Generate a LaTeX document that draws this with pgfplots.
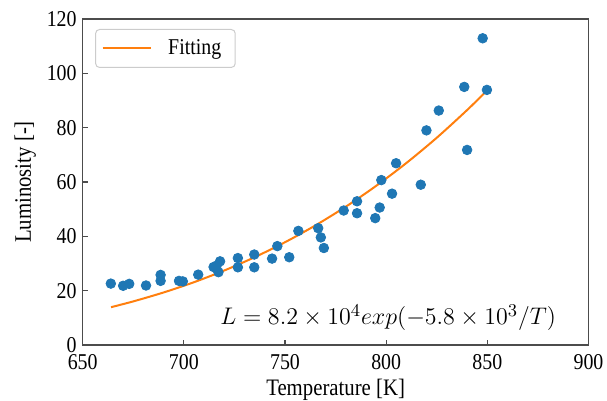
\documentclass[border=0pt]{standalone}
\usepackage{fontspec}
\setmainfont{Liberation Serif}[FakeStretch=0.88]
\usepackage{pgfplots}
\pgfplotsset{compat=1.18}
\definecolor{mplblue}{HTML}{1F77B4}
\definecolor{mplorange}{HTML}{FF7F0E}

\begin{document}
\begin{tikzpicture}
\useasboundingbox (-41.35pt,-28pt) rectangle (262.15pt,172.5pt);
\begin{axis}[scale only axis,width=252.9pt,height=163pt,
  xmin=650,xmax=900,ymin=0,ymax=120,
  xtick={650,700,...,900},ytick={0,20,...,120},
  tick pos=left,tick align=inside,major tick length=2.5pt,
  axis line style={black!70,line width=0.8pt},
  tick style={black!70,line width=0.6pt},
  /pgf/number format/assume math mode=true,
  /pgf/number format/1000 sep={},
  tick label style={font=\fontsize{11.3}{12}\selectfont},
  yticklabel style={xshift=0.5pt},
  xticklabel style={yshift=-1.2pt},
  xlabel={Temperature [K]},ylabel={Luminosity [-]},
  label style={font=\fontsize{11.8}{13}\selectfont},
  xlabel style={at={(axis description cs:0.5,-0.1564)},anchor=base},
  ylabel style={at={(axis description cs:-0.1024,0.5)},anchor=base},
  legend style={at={(axis description cs:0,1)},anchor=north west,xshift=6.2pt,yshift=-5pt,
    draw=black!20,rounded corners=2pt,line width=0.5pt,
    font=\fontsize{11.3}{12}\selectfont,inner xsep=3pt,inner ysep=3pt,
    nodes={inner xsep=4pt,inner ysep=2pt},
    /tikz/every odd column/.append style={column sep=4.3pt}},
  legend cell align=left,
  legend image code/.code={\draw[#1] (0pt,0pt) -- (24pt,0pt);}]
\addplot[only marks,mark=*,mark size=2.4pt,color=mplblue,forget plot] coordinates {
  (663.9,22.6) (670.0,21.8) (673.0,22.5) (681.3,21.9) (688.5,25.8) (688.5,23.6)
  (697.6,23.6) (699.5,23.4) (707.1,25.9) (714.7,28.7) (716.2,29.2) (717.9,30.8)
  (717.1,26.8) (726.7,32.0) (726.7,28.6) (734.8,33.3) (734.8,28.6) (743.6,31.8)
  (746.2,36.4) (752.1,32.3) (756.6,42.0) (766.4,43.0) (767.7,39.6) (769.2,35.7)
  (779.0,49.5) (785.6,52.9) (785.6,48.5) (794.6,46.7) (796.8,50.6) (797.6,60.7)
  (802.9,55.7) (804.9,66.9) (817.1,59.0) (819.9,79.0) (826.0,86.3) (838.6,95.0)
  (840.0,71.8) (847.7,112.9) (849.8,93.9)
};
\addplot[color=mplorange,line width=1pt,smooth] coordinates {
  (664,13.92) (675,16.05) (690,19.34) (705,23.11) (720,27.43) (735,32.32)
  (750,37.83) (765,44.01) (780,50.90) (795,58.55) (810,67.00) (825,76.29)
  (840,86.48) (850,93.79)
};
\addlegendentry{Fitting}
\node[anchor=base,font=\fontsize{13}{15}\selectfont] at (axis cs:801,7.4)
  {$L = 8.2\times 10^4 exp(-5.8\times 10^3/T)$};
\end{axis}
\end{tikzpicture}
\end{document}
